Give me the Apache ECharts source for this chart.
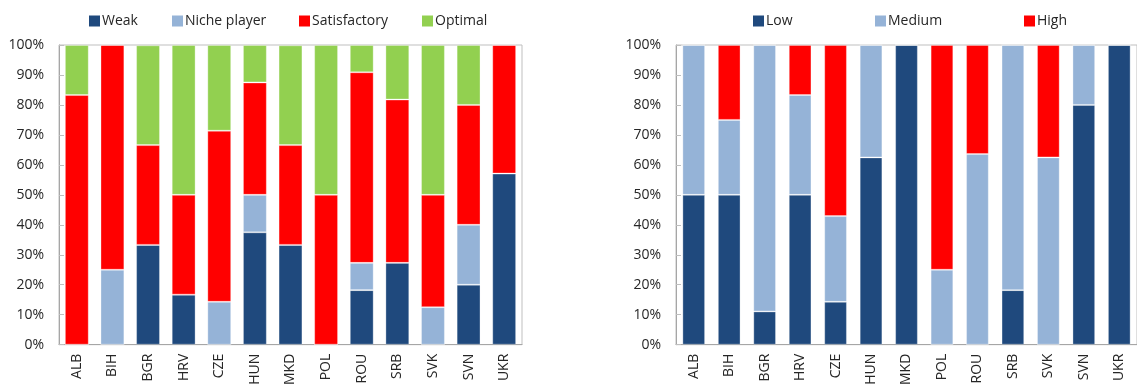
<!DOCTYPE html>
<html>
<head>
<meta charset="utf-8">
<script src="https://cdn.jsdelivr.net/npm/echarts@6/dist/echarts.min.js"></script>
<style>
  html, body { margin: 0; padding: 0; background: #fff; }
  #chart { width: 1137px; height: 388px; }
</style>
</head>
<body>
<div id="chart"></div>
<script>
// Country codes shared by both panels
const countries = ['ALB', 'BIH', 'BGR', 'HRV', 'CZE', 'HUN', 'MKD', 'POL', 'ROU', 'SRB', 'SVK', 'SVN', 'UKR'];

// Left panel: share of ratings per country (%)
const weak         = [0,    0,    33.3, 16.7, 0,    37.5, 33.3, 0,  18.2, 27.3, 0,    20, 57.1];
const nichePlayer  = [0,    25,   0,    0,    14.3, 12.5, 0,    0,  9.1,  0,    12.5, 20, 0];
const satisfactory = [83.3, 75,   33.3, 33.3, 57.1, 37.5, 33.3, 50, 63.6, 54.5, 37.5, 40, 42.9];
const optimal      = [16.7, 0,    33.3, 50,   28.6, 12.5, 33.3, 50, 9.1,  18.2, 50,   20, 0];

// Right panel: share of levels per country (%)
const low    = [50, 50, 11.1, 50,   14.3, 62.5, 100, 0,  0,    18.2, 0,    80, 100];
const medium = [50, 25, 88.9, 33.3, 28.6, 37.5, 0,   25, 63.6, 81.8, 62.5, 20, 0];
const high   = [0,  25, 0,    16.7, 57.1, 0,    0,   75, 36.4, 0,    37.5, 0,  0];

// Percent tick labels
const percentTicks = [0, 10, 20, 30, 40, 50, 60, 70, 80, 90, 100];

const C_DARK = '#1F497D', C_LIGHT = '#95B3D7', C_RED = '#FF0000', C_GREEN = '#92D050';
const FONT = 'Open Sans';
const TXT = '#262626';

function legendItem(name, left, color) {
  return {
    data: [{ name: name, itemStyle: { color: color, borderWidth: 0 } }],
    left: left, top: 14, padding: 0,
    itemWidth: 11, itemHeight: 11, icon: 'rect',
    textStyle: { fontFamily: FONT, fontSize: 14, color: TXT, padding: [0, 0, 0, -3] },
    selectedMode: false
  };
}

function yAxis(gridIndex) {
  return {
    type: 'value', gridIndex: gridIndex, min: 0, max: 100, interval: 10,
    axisLabel: {
      formatter: v => percentTicks.includes(v) ? v + '%' : '',
      fontFamily: FONT, fontSize: 14, color: TXT, margin: 15
    },
    axisLine: { show: true, lineStyle: { color: '#A6A6A6', width: 1 } },
    axisTick: { show: true, inside: true, length: 5, lineStyle: { color: '#BFBFBF' } },
    splitLine: { show: false }
  };
}

function xAxis(gridIndex) {
  return {
    type: 'category', gridIndex: gridIndex, data: countries,
    axisLabel: { rotate: 90, fontFamily: FONT, fontSize: 14, color: TXT, margin: 9, interval: 0 },
    axisLine: { show: true, lineStyle: { color: '#A6A6A6', width: 1 } },
    axisTick: { show: false }
  };
}

function barSeries(name, data, color, axisIndex, stack, gap) {
  return {
    name: name, type: 'bar', stack: stack, data: data,
    xAxisIndex: axisIndex, yAxisIndex: axisIndex,
    barCategoryGap: gap,
    itemStyle: { color: color, borderColor: 'rgba(255,255,255,0.3)', borderWidth: 1 },
    emphasis: { disabled: true },
    animation: false
  };
}

const chart = echarts.init(document.getElementById('chart'), null, { renderer: 'canvas' });
chart.setOption({
  backgroundColor: '#ffffff',
  animation: false,
  legend: [
    legendItem('Weak', 89, C_DARK),
    legendItem('Niche player', 172, C_LIGHT),
    legendItem('Satisfactory', 299, C_RED),
    legendItem('Optimal', 422, C_GREEN),
    legendItem('Low', 753, C_DARK),
    legendItem('Medium', 875, C_LIGHT),
    legendItem('High', 1024, C_RED)
  ],
  grid: [
    { left: 59, top: 45, width: 463, height: 303, show: true, borderColor: '#BFBFBF', borderWidth: 1, containLabel: false },
    { left: 676, top: 45, width: 468, height: 307, show: true, borderColor: '#BFBFBF', borderWidth: 1, containLabel: false }
  ],
  xAxis: [xAxis(0), xAxis(1)],
  yAxis: [yAxis(0), yAxis(1)],
  series: [
    barSeries('Weak', weak, C_DARK, 0, 'a', '33%'),
    barSeries('Niche player', nichePlayer, C_LIGHT, 0, 'a', '33%'),
    barSeries('Satisfactory', satisfactory, C_RED, 0, 'a', '33%'),
    barSeries('Optimal', optimal, C_GREEN, 0, 'a', '33%'),
    barSeries('Low', low, C_DARK, 1, 'b', '36%'),
    barSeries('Medium', medium, C_LIGHT, 1, 'b', '36%'),
    barSeries('High', high, C_RED, 1, 'b', '36%')
  ]
});
</script>
</body>
</html>
